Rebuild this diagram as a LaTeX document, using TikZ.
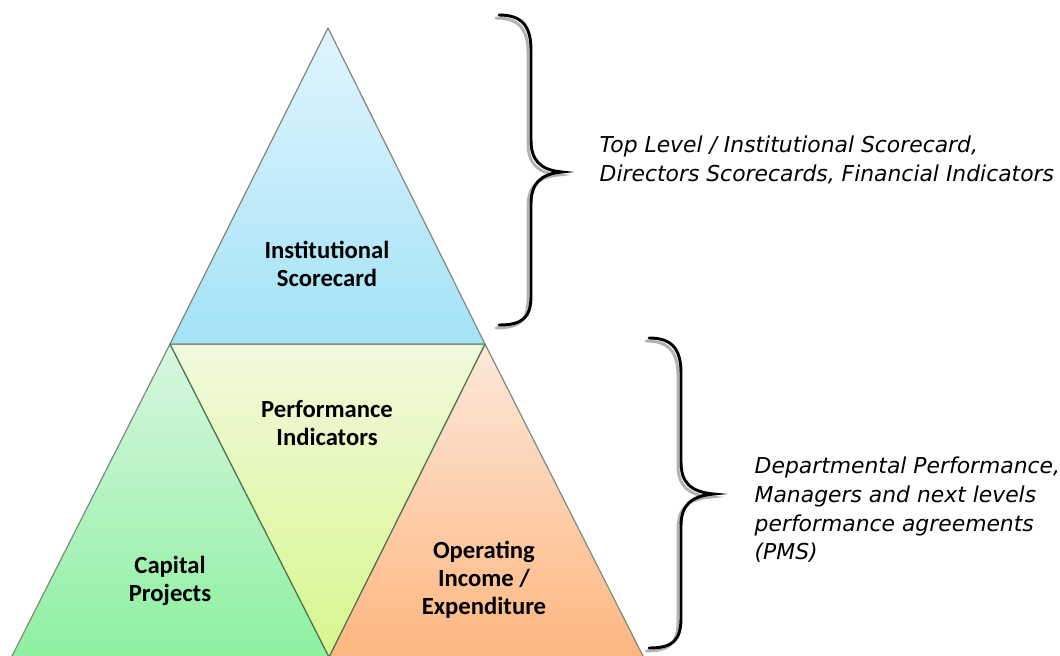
\documentclass[tikz,border=0pt]{standalone}
\usepackage{fontspec}
\usepackage{xcolor}
\usepackage{tikz}
\setmainfont{Carlito}
\newfontfamily\notefont{DejaVu Sans}
\usetikzlibrary{positioning}
\definecolor{skytop}{HTML}{E0F5FC}
\definecolor{skybot}{HTML}{A3E2F7}
\definecolor{limetop}{HTML}{F1F9DD}
\definecolor{limebot}{HTML}{D6F78C}
\definecolor{minttop}{HTML}{D8F6E0}
\definecolor{mintbot}{HTML}{8DF0A0}
\definecolor{peachtop}{HTML}{FCE8DA}
\definecolor{peachbot}{HTML}{FDB67F}
\definecolor{edgegray}{HTML}{7E8A7C}

\tikzset{
  tri/.style={draw=edgegray, line width=0.9pt, line join=round},
  facetext/.style={font=\fontsize{18.5}{21}\selectfont\bfseries, align=center, text=black},
  note/.style={font=\notefont\itshape\fontsize{16.4}{21.5}\selectfont, align=left, anchor=west, text=black},
  curly/.style={line width=2.2pt, line cap=round, draw=black},
  curlyshade/.style={line width=2.2pt, line cap=round, draw=black!30}
}

\begin{document}
\begin{tikzpicture}[x=0.75pt, y=-0.75pt]
  \useasboundingbox (0,0) rectangle (1060,656);

  % corners of the pyramid
  \coordinate (apex) at (328,28);
  \coordinate (tl) at (170,344);
  \coordinate (tr) at (485,344);
  \coordinate (bl) at (11,658);
  \coordinate (bm) at (329,657);
  \coordinate (br) at (644,658);

  % the four faces
  \draw[tri, top color=minttop, bottom color=mintbot] (tl) -- (bm) -- (bl) -- cycle;
  \draw[tri, top color=peachtop, bottom color=peachbot] (tr) -- (br) -- (bm) -- cycle;
  \draw[tri, draw=black!60!green!40!gray, top color=limetop, bottom color=limebot]
    (tl) -- (tr) -- (bm) -- cycle;
  \draw[tri, top color=skytop, bottom color=skybot] (apex) -- (tr) -- (tl) -- cycle;

  \node[facetext] (inst) at (327,264) {Institutional\\Scorecard};
  \node[facetext] (perf) at (327,423) {Performance\\Indicators};
  \node[facetext] (capital) at (170,581) {Capital\\Projects};
  \node[facetext] (opex) at (484,580) {Operating\\Income /\\Expenditure};

  % braces, with a soft grey copy underneath
  \foreach \dx/\sty in {-3/curlyshade, 0/curly} {
    \draw[\sty, shift={(\dx,-\dx)}]
      (499,15) .. controls (522,15) and (531,26) .. (531,50) -- (531,140)
      .. controls (531,160) and (540,170) .. (562,172)
      .. controls (540,174) and (531,184) .. (531,204) -- (531,296)
      .. controls (531,318) and (522,325) .. (499,325);
    \draw[\sty, shift={(\dx,-\dx)}]
      (649,338) .. controls (672,338) and (681,349) .. (681,373) -- (681,462)
      .. controls (681,482) and (690,492) .. (714,494)
      .. controls (690,496) and (681,506) .. (681,526) -- (681,618)
      .. controls (681,641) and (672,648) .. (649,648);
  }

  \node[note] (topnote) at (595,160)
    {Top Level / Institutional Scorecard,\\Directors Scorecards, Financial Indicators};
  \node[note] (lownote) at (750,510)
    {Departmental Performance,\\Managers and next levels\\performance agreements\\(PMS)};
\end{tikzpicture}
\end{document}
